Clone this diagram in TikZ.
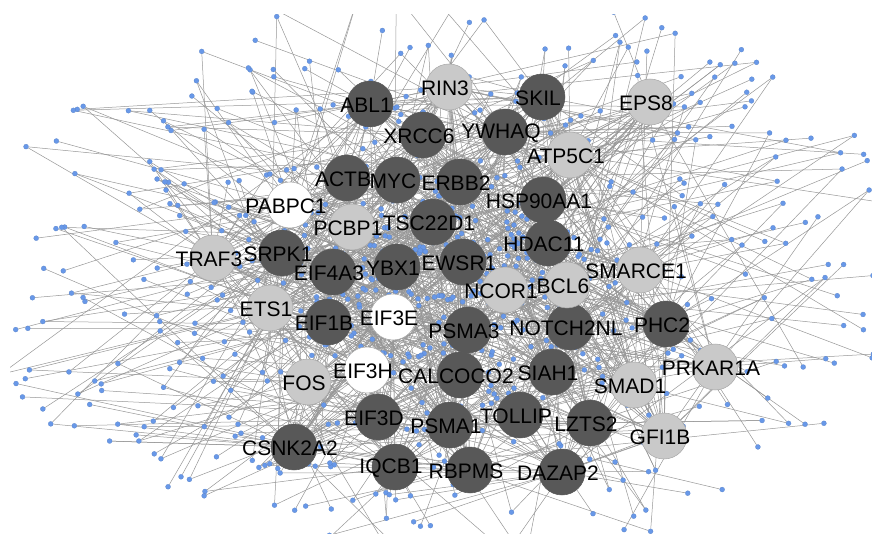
\documentclass[tikz,border=0pt]{standalone}
\usepackage{fontspec}
\setmainfont{Liberation Sans}
\usetikzlibrary{backgrounds}

\definecolor{hubdark}{RGB}{88,88,88}
\definecolor{hubgrey}{RGB}{201,201,201}
\definecolor{hubline}{RGB}{168,168,168}
\definecolor{dotblue}{RGB}{104,152,232}
\definecolor{linkgrey}{RGB}{150,150,150}

\tikzset{
  hub/.style={circle, minimum size=46pt, inner sep=0pt, line width=0.5pt},
  darkhub/.style={hub, fill=hubdark, draw=hubdark},
  greyhub/.style={hub, fill=hubgrey, draw=hubline},
  whitehub/.style={hub, fill=white, draw=hubline},
  genelabel/.style={font=\fontsize{21}{21}\selectfont, inner sep=0pt, text=black},
  partner/.style={circle, fill=dotblue, draw=dotblue!85!black, line width=0.2pt, minimum size=5pt, inner sep=0pt},
  link/.style={draw=linkgrey, line width=0.5pt}
}

% nearer of two random hubs for partner #1, result in \hubpick
\newcommand\pickhub[1]{%
  \pgfpointanchor{p#1}{center}\pgfgetlastxy{\px}{\py}%
  \pgfmathrandominteger{\ha}{1}{44}%
  \pgfmathrandominteger{\hb}{1}{44}%
  \pgfpointanchor{h\ha}{center}\pgfgetlastxy{\ax}{\ay}%
  \pgfpointanchor{h\hb}{center}\pgfgetlastxy{\bx}{\by}%
  \pgfmathsetmacro\da{veclen(\ax-\px,\ay-\py)}%
  \pgfmathsetmacro\db{veclen(\bx-\px,\by-\py)}%
  \pgfmathtruncatemacro\hubpick{\da<\db ? \ha : \hb}%
}

\begin{document}
\begin{tikzpicture}[x=1pt, y=-1pt]
	\useasboundingbox (0,0) rectangle (872,534);
	\pgfmathsetseed{2718}

	% interaction partners
	\begin{scope}
		\clip (10,15) rectangle (872,534);
		\foreach \i in {1,...,780} {
			\pgfmathsetmacro\ang{360*rnd}
			\pgfmathsetmacro\rad{0.08+0.92*rnd^1.15}
			\node[partner] (p\i) at ({445+475*\rad*cos(\ang)},{272+290*\rad*sin(\ang)}) {};
		}
	\end{scope}

	% hub genes
	\foreach \name/\x/\y/\kind [count=\k] in {
		ABL1/370/104/darkhub, RIN3/449/87/greyhub, SKIL/542/97/darkhub,
		EPS8/650/102/greyhub, XRCC6/423/135/darkhub, YWHAQ/505/132/darkhub,
		ATP5C1/570/155/greyhub, ACTB/347/178/darkhub, MYC/397/180/darkhub,
		ERBB2/460/182/darkhub, HSP90AA1/543/200/darkhub, PABPC1/290/205/whitehub,
		PCBP1/352/227/greyhub, TSC22D1/433/222/darkhub, HDAC11/548/243/darkhub,
		TRAF3/213/258/greyhub, SRPK1/282/253/darkhub, EIF4A3/333/272/darkhub,
		YBX1/397/267/darkhub, EWSR1/463/262/darkhub, NCOR1/505/290/greyhub,
		SMARCE1/640/270/greyhub, ETS1/270/308/greyhub, EIF1B/328/322/darkhub,
		EIF3E/393/317/whitehub, PSMA3/468/330/darkhub, NOTCH2NL/570/327/darkhub,
		BCL6/567/285/greyhub, PHC2/666/324/darkhub, PRKAR1A/715/367/greyhub,
		FOS/308/382/greyhub, EIF3H/367/370/whitehub, CALCOCO2/460/375/darkhub,
		SIAH1/552/372/darkhub, SMAD1/634/385/greyhub, EIF3D/378/417/darkhub,
		PSMA1/450/425/darkhub, TOLLIP/520/415/darkhub, LZTS2/590/423/darkhub,
		GFI1B/664/436/greyhub, CSNK2A2/294/447/darkhub, IQCB1/395/467/darkhub,
		RBPMS/470/470/darkhub, DAZAP2/562/472/darkhub} {
		\node[\kind, alias=h\k] (\name) at (\x,\y) {};
		\node[genelabel] (lab\k) at (\x-4,\y+1) {\name};
	}

	% interactions
	\begin{scope}[on background layer]
		\clip (10,15) rectangle (872,534);
		\foreach \i in {1,...,780} {
			\pickhub{\i}
			\draw[link] (p\i) -- (h\hubpick);
			\pgfmathsetmacro\extra{rnd}
			\ifdim\extra pt<0.30pt
				\pickhub{\i}
				\draw[link] (p\i) -- (h\hubpick);
			\fi
		}
		\foreach \k in {1,...,44} {
			\foreach \m in {1,...,5} {
				\pgfmathrandominteger{\he}{1}{44}
				\draw[link] (h\k) -- (h\he);
			}
		}
	\end{scope}
\end{tikzpicture}
\end{document}
